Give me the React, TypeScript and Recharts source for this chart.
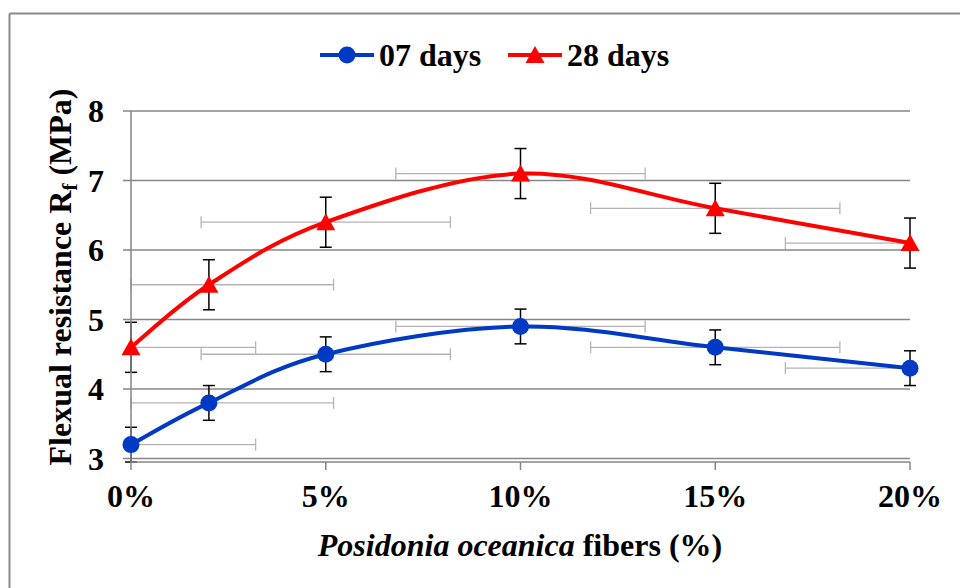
import React from 'react';
import { ComposedChart, Line, Scatter, XAxis, YAxis, CartesianGrid, ErrorBar } from 'recharts';

const fibers = [0, 2, 5, 10, 15, 20];
const days07 = [3.2, 3.8, 4.5, 4.9, 4.6, 4.3];
const days28 = [4.6, 5.5, 6.4, 7.1, 6.6, 6.1];
const err07 = [0.25, 0.25, 0.25, 0.25, 0.25, 0.25];
const err28 = [0.36, 0.36, 0.36, 0.36, 0.36, 0.36];
const fiberErr = [3.2, 3.2, 3.2, 3.2, 3.2, 3.2];
const xTicks = [0, 5, 10, 15, 20];
const yTicks = [3, 4, 5, 6, 7, 8];
const seriesNames = ['07 days', '28 days'];
const xDomain: [number, number] = [0, 20];
const yDomain: [number, number] = [3, 8];

const BLUE = '#0039c4';
const RED = '#ff0000';
const GRID = '#868686';
const XERR = '#b4b4b4';
const FONT = '"Liberation Serif", "Times New Roman", serif';

const build = (vals: number[], errs: number[]) =>
  fibers.map((x, i) => ({
    x,
    y: vals[i],
    ey: errs[i],
    ex: [Math.min(fiberErr[i], x - xDomain[0]), Math.min(fiberErr[i], xDomain[1] - x)],
  }));

const pts07 = build(days07, err07);
const pts28 = build(days28, err28);

// Excel-like smoothed line (Catmull-Rom style Bezier)
const excelSmooth: any = (context: any) => {
  let pts: number[][] = [];
  return {
    areaStart() {},
    areaEnd() {},
    lineStart() {
      pts = [];
    },
    point(x: number, y: number) {
      pts.push([+x, +y]);
    },
    lineEnd() {
      const n = pts.length;
      if (!n) return;
      context.moveTo(pts[0][0], pts[0][1]);
      for (let i = 0; i < n - 1; i++) {
        const p0 = pts[Math.max(i - 1, 0)];
        const p1 = pts[i];
        const p2 = pts[i + 1];
        const p3 = pts[Math.min(i + 2, n - 1)];
        context.bezierCurveTo(
          p1[0] + (p2[0] - p0[0]) / 6,
          p1[1] + (p2[1] - p0[1]) / 6,
          p2[0] - (p3[0] - p1[0]) / 6,
          p2[1] - (p3[1] - p1[1]) / 6,
          p2[0],
          p2[1]
        );
      }
    },
  };
};

const Empty = () => <g />;
const Circle = (p: any) => <circle cx={p.cx} cy={p.cy} r={8.5} fill={BLUE} />;
const Tri = (p: any) => (
  <polygon points={`${p.cx},${p.cy - 9} ${p.cx - 9.5},${p.cy + 8} ${p.cx + 9.5},${p.cy + 8}`} fill={RED} />
);

const XTick = (p: any) => (
  <text x={p.x} y={p.y + 27} textAnchor="middle" fontFamily={FONT} fontWeight="bold" fontSize={32} fill="#000">
    {p.payload.value}%
  </text>
);
const YTick = (p: any) => (
  <text x={p.x} y={p.y + 11} textAnchor="end" fontFamily={FONT} fontWeight="bold" fontSize={32} fill="#000">
    {p.payload.value}
  </text>
);

const YLabel = () => (
  <text
    transform="translate(71,277) rotate(-90)"
    textAnchor="middle"
    fontFamily={FONT}
    fontWeight="bold"
    fontSize={32}
    fill="#000"
  >
    Flexual resistance R<tspan dy={6} fontSize={21}>f</tspan>
    <tspan dy={-6}> (MPa)</tspan>
  </text>
);
const XLabel = () => (
  <text x={520} y={556} textAnchor="middle" fontFamily={FONT} fontWeight="bold" fontSize={32} fill="#000">
    <tspan fontStyle="italic">Posidonia oceanica</tspan> fibers (%)
  </text>
);

export default function App() {
  return (
    <div style={{ position: 'absolute', left: 0, top: 0, width: 960, height: 588, background: '#fff' }}>
      <svg width={960} height={588} style={{ position: 'absolute', left: 0, top: 0 }}>
        <line x1={9.5} y1={13.5} x2={960} y2={13.5} stroke="#8a8a8a" strokeWidth={2} />
        <line x1={9.5} y1={13.5} x2={9.5} y2={588} stroke="#8a8a8a" strokeWidth={2} />
        <line x1={320} y1={55} x2={374} y2={55} stroke={BLUE} strokeWidth={4} />
        <circle cx={347} cy={55} r={8.5} fill={BLUE} />
        <text x={379} y={66} fontFamily={FONT} fontWeight="bold" fontSize={32} fill="#000">
          {seriesNames[0]}
        </text>
        <line x1={508} y1={55} x2={562} y2={55} stroke={RED} strokeWidth={4} />
        <polygon points="535,46 525.5,63 544.5,63" fill={RED} />
        <text x={567} y={66} fontFamily={FONT} fontWeight="bold" fontSize={32} fill="#000">
          {seriesNames[1]}
        </text>
      </svg>
      <div style={{ position: 'absolute', left: 0, top: 0 }}>
        <ComposedChart width={960} height={588} margin={{ top: 111, right: 50, bottom: 96, left: 0 }}>
          <CartesianGrid vertical={false} stroke={GRID} strokeWidth={1.5} horizontalValues={yTicks} />
          <XAxis
            type="number"
            dataKey="x"
            domain={xDomain}
            ticks={xTicks}
            interval={0}
            height={30}
            stroke={GRID}
            strokeWidth={1.5}
            tickSize={8}
            tickMargin={10}
            tick={<XTick />}
            label={<XLabel />}
          />
          <YAxis
            type="number"
            domain={yDomain}
            ticks={yTicks}
            interval={0}
            width={131}
            stroke={GRID}
            strokeWidth={1.5}
            tickSize={8}
            tickMargin={19}
            tick={<YTick />}
            label={<YLabel />}
          />
          <Scatter data={pts07} dataKey="y" shape={<Empty />} isAnimationActive={false}>
            <ErrorBar dataKey="ex" direction="x" width={6} stroke={XERR} strokeWidth={1.3} />
          </Scatter>
          <Scatter data={pts28} dataKey="y" shape={<Empty />} isAnimationActive={false}>
            <ErrorBar dataKey="ex" direction="x" width={6} stroke={XERR} strokeWidth={1.3} />
          </Scatter>
          <Line
            data={pts07}
            dataKey="y"
            type={excelSmooth}
            stroke={BLUE}
            strokeWidth={4}
            dot={false}
            activeDot={false}
            isAnimationActive={false}
          />
          <Line
            data={pts28}
            dataKey="y"
            type={excelSmooth}
            stroke={RED}
            strokeWidth={4}
            dot={false}
            activeDot={false}
            isAnimationActive={false}
          />
          <Scatter data={pts07} dataKey="y" shape={<Circle />} isAnimationActive={false}>
            <ErrorBar dataKey="ey" direction="y" width={6} stroke="#000" strokeWidth={1.5} />
          </Scatter>
          <Scatter data={pts28} dataKey="y" shape={<Tri />} isAnimationActive={false}>
            <ErrorBar dataKey="ey" direction="y" width={6} stroke="#000" strokeWidth={1.5} />
          </Scatter>
        </ComposedChart>
      </div>
    </div>
  );
}
